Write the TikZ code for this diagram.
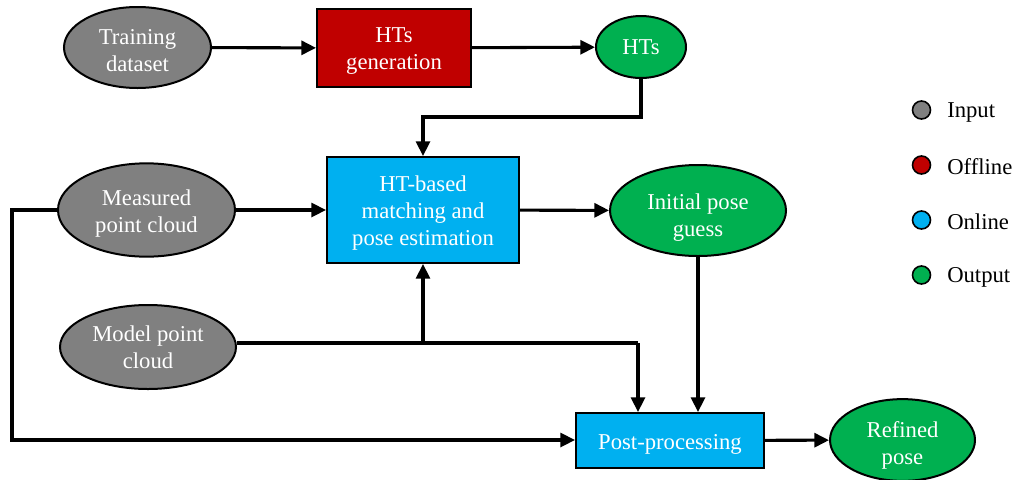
\documentclass[tikz,border=0pt]{standalone}
\usepackage{fontspec}
\setmainfont{Liberation Serif}
\usetikzlibrary{shapes.geometric,arrows.meta}
\definecolor{ingray}{HTML}{808080}
\definecolor{offred}{HTML}{C00000}
\definecolor{onblue}{HTML}{00B0F0}
\definecolor{outgreen}{HTML}{00B050}
% invisible strut that sets the height of a label's first line
\newcommand\lifttext[1]{\rule{0pt}{#1}}
\tikzset{
  lbl/.style={font=\fontsize{17}{20.25}\selectfont, text=white, align=center, inner sep=0pt},
  oval/.style={lbl, ellipse, draw=black, line width=1.5pt},
  blk/.style={lbl, rectangle, draw=black, line width=1.5pt},
  flow/.style={line width=2.3pt, -{Triangle[length=11pt,width=10.5pt]}},
  plain/.style={line width=2.3pt},
  keydot/.style={circle, draw=black, line width=1.2pt, minimum size=13.5pt, inner sep=0pt},
  keytxt/.style={font=\fontsize{17}{20.25}\selectfont, anchor=west, inner sep=0pt},
}
\begin{document}
\begin{tikzpicture}[x=0.75pt, y=-0.75pt]
\useasboundingbox (0,0) rectangle (1016,479);

% process nodes
\node[oval, fill=ingray, minimum width=110.25pt, minimum height=60.75pt] (train) at (137.5,47.5) {\lifttext{16pt}Training\\dataset};
\node[blk, fill=offred, minimum width=115.5pt, minimum height=58.5pt] (gen) at (394,48) {\lifttext{16pt}HTs\\generation};
\node[oval, fill=outgreen, minimum width=67.5pt, minimum height=46.5pt] (hts) at (641,47) {HTs};
\node[blk, fill=onblue, minimum width=144pt, minimum height=79.5pt] (match) at (423,210) {\lifttext{16pt}HT-based\\matching and\\pose estimation};
\node[oval, fill=ingray, minimum width=132.75pt, minimum height=70pt] (meas) at (146.5,210) {\lifttext{17pt}Measured\\point cloud};
\node[oval, fill=outgreen, minimum width=132pt, minimum height=68.25pt] (init) at (698,210.5) {\lifttext{22pt}Initial pose\\guess};
\node[oval, fill=ingray, minimum width=132pt, minimum height=63pt] (model) at (148,347) {Model point\\cloud};
\node[blk, fill=onblue, minimum width=141pt, minimum height=41.25pt] (post) at (670,440.5) {\lifttext{16.5pt}Post-processing};
\node[oval, fill=outgreen, minimum width=108.75pt, minimum height=57pt] (refined) at (902.5,440) {\lifttext{19.5pt}Refined\\pose};

% junction points of the routed connectors
\coordinate (htsturn) at (641,117);
\coordinate (matchin) at (423,117);
\coordinate (leftup) at (12,210);
\coordinate (leftdown) at (12,440);
\coordinate (modeljoin) at (423,343);
\coordinate (modelturn) at (638,343);

% connectors
\draw[flow] (train) -- (gen);
\draw[flow] (gen) -- (hts);
\draw[flow] (hts.south) -- (htsturn) -- (matchin) -- (match.north);
\draw[flow] (meas) -- (match);
\draw[flow] (match) -- (init);
\draw[flow] (init.south) -- (init.south |- post.north);
\draw[flow] (meas.west) -- (leftup) -- (leftdown) -- (post.west |- leftdown);
\draw[plain] (model.east |- modelturn) -- (modelturn);
\draw[flow] (modeljoin) -- (match.south);
\draw[flow] (modelturn) -- (modelturn |- post.north);
\draw[flow] (post) -- (refined);

% legend
\node[keydot, fill=ingray] (k1) at (921.5,110) {};
\node[keydot, fill=offred] (k2) at (921.5,165) {};
\node[keydot, fill=onblue] (k3) at (921.5,220) {};
\node[keydot, fill=outgreen] (k4) at (921.5,275) {};
\node[keytxt] (t1) at (947,110) {\lifttext{15pt}Input};
\node[keytxt] (t2) at (947,165) {\lifttext{15pt}Offline};
\node[keytxt] (t3) at (947,220) {\lifttext{15pt}Online};
\node[keytxt] (t4) at (947,275) {\lifttext{15pt}Output};
\end{tikzpicture}
\end{document}
